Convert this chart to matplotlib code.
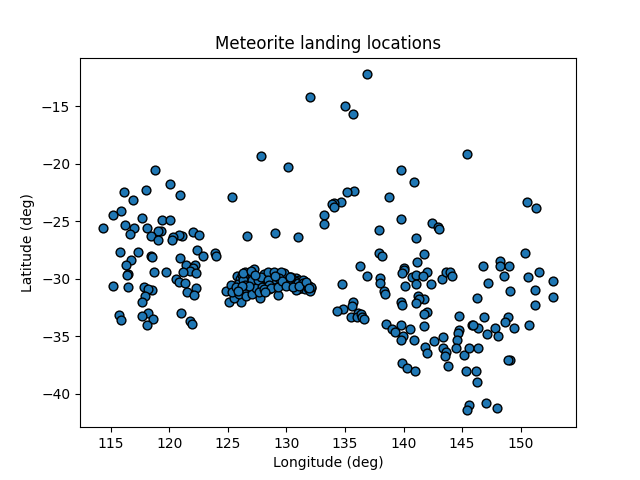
from matplotlib import pyplot as plt

# meteorite positions
lon = [118.8,120.1,118.0,116.1,120.9,116.9,115.9,115.2,117.7,119.4,120.1,116.2,114.3,117.0,118.1,119.3,119.06,116.66,118.4,119.0,
       122.0,122.5,121.05,120.8,120.35,120.2,115.8,117.3,122.4,123.9,122.9,118.46,118.55,120.9,116.75,116.3,121.4,122.2,122.05,121.8,
       121.2,118.7,119.75,122.25,116.5,116.4,120.6,120.8,121.3,115.2,116.5,117.8,118.55,118.2,122.3,121.5,122.15,117.95,117.7,121.0,
       118.2,115.7,117.7,118.6,115.9,121.8,121.9,118.1,
       # dense group around 125-132, back ones first
       125.8,126.0,126.2,126.5,126.7,126.9,126.6,126.2,125.9,125.6,125.9,126.3,126.7,127.0,127.3,127.5,127.2,127.8,128.0,128.3,
       128.6,128.8,128.5,129.1,129.3,129.6,129.9,130.2,130.5,130.8,131.1,129.5,130.0,130.3,130.6,130.9,131.2,131.5,131.7,131.9,
       132.1,131.3,131.6,130.9,127.1,128.1,128.7,129.2,129.8,
       127.2,124.8,125.1,126.15,125.5,125.25,125.35,125.7,126.3,126.25,126.4,125.95,126.5,126.55,127.1,127.1,127.4,127.55,127.8,127.75,
       127.95,127.7,128.4,128.95,129.55,128.9,129.25,128.4,128.55,129.8,129.4,130.1,130.7,130.25,130.95,131.4,131.4,131.8,132.0,131.0,
       130.8,132.1,128.1,128.7,129.3,129.6,130.0,130.4,130.6,131.1,131.7,131.9,127.0,126.8,126.2,125.9,128.2,127.3,129.0,130.3,
       # middle and east
       140.9,135.75,135.2,138.75,134.65,134.1,133.9,134.1,133.25,133.25,139.8,142.45,142.9,143.05,137.9,141.1,137.9,138.15,141.75,141.15,
       136.3,136.9,140.0,140.0,139.9,142.0,140.75,141.1,141.7,143.25,143.65,144.0,144.15,138.0,138.0,134.75,140.15,141.1,142.35,138.3,
       138.45,139.8,139.9,141.25,141.75,141.3,141.1,135.68,135.6,134.8,134.3,135.5,136.1,136.0,136.35,136.45,136.6,
       146.3,144.75,145.85,146.4,138.5,139.0,139.3,139.8,140.55,141.75,142.0,141.75,139.95,139.8,140.9,142.6,143.4,141.85,142.0,143.4,
       143.65,143.55,143.8,144.75,144.65,144.6,144.5,145.2,145.6,146.4,139.85,140.3,141.0,145.3,146.2,146.3,145.6,145.45,
       150.35,148.27,148.2,149.0,146.8,151.6,150.6,148.6,152.75,147.25,151.25,149.1,152.8,151.2,148.9,146.9,148.7,145.9,147.8,149.4,
       150.7,147.16,148.1,149.05,148.96,147.0,148.0,
       # isolated north
       136.85,132.0,135.0,135.65,127.8,130.1,125.35,145.4,139.8,150.5,151.35,126.65,129.0,131.0,124.0]
lat = [-20.6,-21.8,-22.3,-22.5,-22.7,-23.2,-24.1,-24.5,-24.7,-24.9,-24.9,-25.3,-25.6,-25.6,-25.6,-25.9,-25.9,-26.1,-26.3,-26.65,
       -25.95,-26.2,-26.3,-26.2,-26.4,-26.65,-27.7,-27.7,-27.5,-27.8,-28.0,-28.05,-28.1,-28.2,-28.4,-28.8,-28.8,-28.8,-29.1,-29.3,
       -29.45,-29.45,-29.45,-29.5,-29.6,-29.7,-30.0,-30.3,-30.4,-30.6,-30.7,-30.75,-31.0,-30.9,-30.85,-31.2,-31.45,-31.5,-32.05,-33.0,
       -33.0,-33.2,-33.25,-33.55,-33.6,-33.7,-33.9,-34.0,
       -29.8,-30.0,-29.7,-29.4,-29.65,-29.9,-30.3,-30.4,-30.5,-30.9,-31.0,-31.1,-30.9,-30.5,-30.2,-30.6,-31.0,-30.3,-30.0,-30.4,
       -30.1,-30.5,-30.9,-30.2,-29.9,-30.0,-29.8,-29.9,-30.0,-29.95,-30.1,-30.3,-30.3,-30.3,-30.4,-30.3,-30.4,-30.2,-30.4,-30.6,
       -30.8,-30.8,-30.9,-30.8,-29.6,-29.6,-29.7,-29.6,-29.5,
       -29.15,-31.05,-32.0,-32.0,-31.7,-30.55,-31.2,-30.7,-30.1,-29.55,-30.9,-31.3,-30.55,-31.55,-31.35,-30.1,-30.85,-30.1,-29.9,-31.7,
       -30.7,-31.15,-29.4,-29.4,-29.4,-30.05,-31.4,-30.1,-30.55,-30.4,-29.95,-30.1,-30.2,-30.55,-30.4,-30.1,-30.4,-30.85,-31.1,-30.9,
       -31.0,-30.7,-30.9,-30.8,-30.7,-30.2,-30.6,-29.9,-30.7,-30.6,-30.3,-30.8,-29.3,-30.6,-30.6,-31.1,-31.2,-29.7,-29.8,-29.9,
       -21.6,-22.35,-22.5,-22.9,-23.3,-23.4,-23.5,-23.75,-24.5,-25.25,-24.8,-25.2,-25.5,-25.7,-25.8,-26.5,-27.75,-28.0,-27.85,-28.55,
       -28.9,-29.8,-29.05,-29.25,-29.55,-29.45,-29.9,-29.7,-29.8,-30.05,-29.45,-29.45,-29.8,-29.95,-30.4,-30.5,-30.65,-30.5,-30.5,-31.05,
       -31.3,-32.0,-32.25,-31.55,-31.8,-31.8,-32.15,-32.06,-32.4,-32.6,-32.85,-33.3,-32.95,-33.3,-33.1,-33.3,-33.55,
       -31.7,-33.27,-34.05,-34.25,-33.9,-34.4,-34.65,-34.05,-34.4,-34.15,-32.9,-33.1,-35.0,-35.35,-35.35,-35.45,-35.1,-35.9,-36.5,-36.0,
       -36.4,-36.75,-37.55,-34.5,-34.75,-35.3,-36.0,-36.6,-36.0,-36.0,-37.3,-37.75,-38.0,-38.05,-38.05,-39.0,-40.95,-41.45,
       -27.8,-28.5,-28.9,-28.9,-28.9,-29.45,-29.9,-29.8,-30.2,-30.4,-30.95,-31.1,-31.6,-32.3,-33.3,-33.35,-33.8,-34.05,-34.25,-34.3,
       -34.05,-34.85,-34.95,-37.05,-37.1,-40.8,-41.2,
       -12.25,-14.2,-15.0,-15.7,-19.3,-20.3,-22.9,-19.2,-20.6,-23.3,-23.85,-26.3,-26.0,-26.35,-28.0]

plt.figure(figsize=(6.4,4.8),dpi=100)
plt.scatter(lon, lat, s=40, edgecolors='black', linewidths=1.0)
plt.xlabel("Longitude (deg)")
plt.ylabel("Latitude (deg)")
plt.title("Meteorite landing locations")
plt.savefig('out.png')
